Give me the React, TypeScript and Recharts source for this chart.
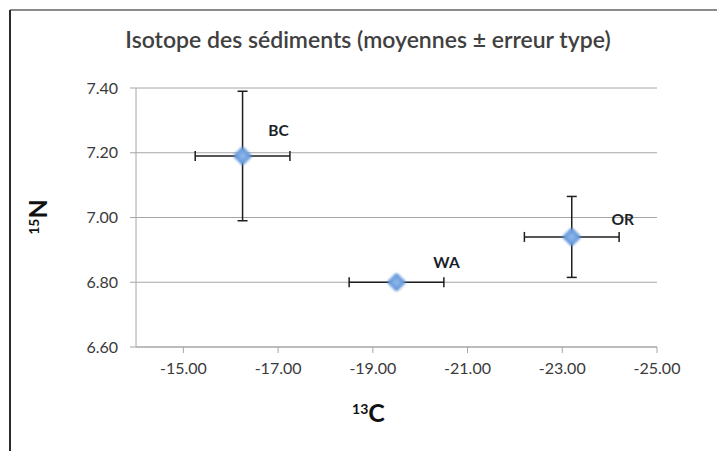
import { ScatterChart, Scatter, XAxis, YAxis, CartesianGrid, ErrorBar, LabelList, Label } from 'recharts';

const sites = ['BC', 'WA', 'OR'];
const carbon13 = [-16.25, -19.5, -23.2];
const nitrogen15 = [7.19, 6.8, 6.94];
const carbonErr = [1.0, 1.0, 1.0];
const nitrogenErr = [0.2, 0, 0.125];

const xTicks = [-15, -17, -19, -21, -23, -25];
const yTicks = [6.6, 6.8, 7.0, 7.2, 7.4];

// manual label placement, like the hand-dragged labels in the original
const labelShift: Record<string, [number, number]> = {
  BC: [36, -26],
  WA: [50, -20],
  OR: [51, -18],
};

const data = sites.map((name, i) => ({
  name,
  x: carbon13[i],
  y: nitrogen15[i],
  xErr: carbonErr[i],
  yErr: nitrogenErr[i],
}));

const FONT = 'Lato, "Open Sans", sans-serif';
const axisColor = '#a6a6a6';

const Diamond = (props: any) => {
  const { cx, cy } = props;
  if (cx == null || cy == null) return null;
  return (
    <g>
      <rect
        x={cx - 7}
        y={cy - 7}
        width={14}
        height={14}
        rx={2.5}
        transform={`rotate(45 ${cx} ${cy})`}
        fill="url(#diamondFill)"
        filter="url(#soft)"
      />
    </g>
  );
};

const SiteLabel = (props: any) => {
  const { x, y, width, height, value } = props;
  const [dx, dy] = labelShift[value] ?? [0, 0];
  const cx = x + width / 2 + dx;
  const cy = y + height / 2 + dy;
  return (
    <text x={cx} y={cy} textAnchor="middle" dominantBaseline="central" fontFamily={FONT} fontWeight={700} fontSize={15.5} fill="#1b1f2a">
      {value}
    </text>
  );
};

export default function App() {
  return (
    <div style={{ position: 'absolute', left: 0, top: 0, width: 717, height: 451, background: '#fff', overflow: 'hidden' }}>
      <div style={{ position: 'absolute', left: 10, top: 9, right: 0, height: 2, background: '#8c8c8c' }} />
      <div style={{ position: 'absolute', left: 9, top: 10, width: 2, bottom: 0, background: '#2b2b2b' }} />
      <div
        style={{
          position: 'absolute',
          left: 0,
          width: 736,
          top: 25,
          textAlign: 'center',
          fontFamily: FONT,
          fontSize: 23,
          fontWeight: 600,
          color: '#404040',
        }}
      >
        Isotope des sédiments (moyennes ± erreur type)
      </div>
      <ScatterChart width={717} height={451} margin={{ top: 88, right: 60, bottom: 74, left: 60 }}>
        <defs>
          <radialGradient id="diamondFill" cx="50%" cy="50%" r="60%">
            <stop offset="0%" stopColor="#92bbec" />
            <stop offset="100%" stopColor="#5a8fd6" />
          </radialGradient>
          <filter id="soft" x="-30%" y="-30%" width="160%" height="160%">
            <feGaussianBlur stdDeviation="0.8" />
          </filter>
        </defs>
        <CartesianGrid vertical={false} stroke={axisColor} strokeWidth={1} />
        <XAxis
          type="number"
          dataKey="x"
          domain={[-25, -14]}
          reversed
          ticks={xTicks}
          allowDataOverflow
          tickFormatter={(v: number) => v.toFixed(2)}
          stroke={axisColor}
          tickSize={6}
          tickMargin={10}
          height={30}
          tick={{ fill: '#3a3a3a', fontSize: 16, fontFamily: FONT }}
        >
          <Label
            position="bottom"
            content={(p: any) => {
              const vb = p.viewBox;
              return (
                <text x={vb.x + vb.width / 2 - 28} y={422} textAnchor="middle" fontFamily={FONT} fontWeight={700} fill="#111">
                  <tspan fontSize={14} baselineShift="super">13</tspan>
                  <tspan fontSize={25}>C</tspan>
                </text>
              );
            }}
          />
        </XAxis>
        <YAxis
          type="number"
          dataKey="y"
          domain={[6.6, 7.4]}
          ticks={yTicks}
          tickFormatter={(v: number) => v.toFixed(2)}
          stroke={axisColor}
          tickSize={6}
          tickMargin={12}
          width={76}
          tick={{ fill: '#3a3a3a', fontSize: 16, fontFamily: FONT }}
        >
          <Label
            position="left"
            content={() => (
              <text x={0} y={0} transform="translate(47 217) rotate(-90)" textAnchor="middle" fontFamily={FONT} fontWeight={700} fill="#111">
                <tspan fontSize={14} baselineShift="super">15</tspan>
                <tspan fontSize={25}>N</tspan>
              </text>
            )}
          />
        </YAxis>
        <Scatter data={data} shape={<Diamond />} isAnimationActive={false}>
          <ErrorBar dataKey="xErr" direction="x" width={5} stroke="#1e1e1e" strokeWidth={1.5} />
          <ErrorBar dataKey="yErr" direction="y" width={5} stroke="#1e1e1e" strokeWidth={1.5} />
          <LabelList dataKey="name" content={<SiteLabel />} />
        </Scatter>
      </ScatterChart>
    </div>
  );
}
